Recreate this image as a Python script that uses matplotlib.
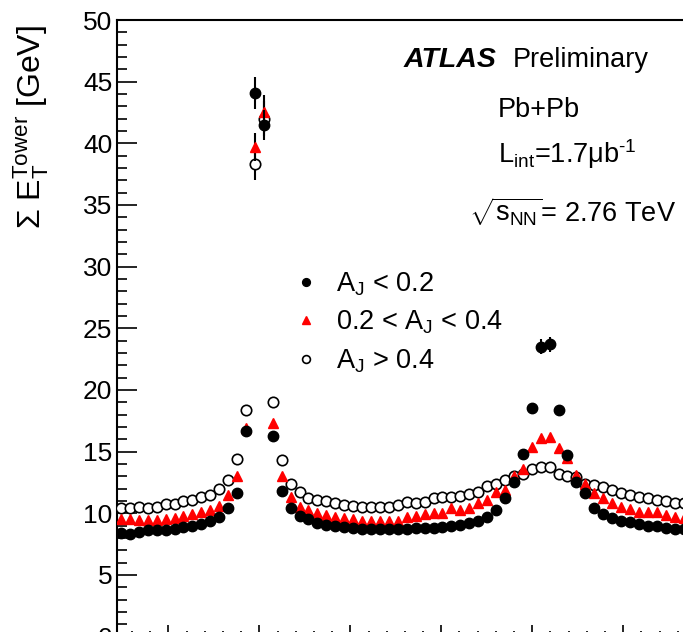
import numpy as np
import matplotlib
matplotlib.use('Agg')
import matplotlib.pyplot as plt
from matplotlib.ticker import MultipleLocator

plt.rcParams['font.family'] = 'Liberation Sans'
plt.rcParams['mathtext.fontset'] = 'custom'
plt.rcParams['mathtext.rm'] = 'Liberation Sans'
plt.rcParams['mathtext.it'] = 'Liberation Sans:italic'
plt.rcParams['mathtext.bf'] = 'Liberation Sans:bold'

# 64 delta-phi bins from -pi/2 to 3pi/2
nbins = 64
edges = np.linspace(-np.pi/2, 3*np.pi/2, nbins + 1)
dphi = 0.5*(edges[:-1] + edges[1:])

# sum E_T tower [GeV], A_J < 0.2
et_low = [8.4, 8.3, 8.5, 8.6, 8.6, 8.65, 8.75, 8.85, 9.0, 9.1,
          9.35, 9.7, 10.4, 11.6, 16.7, 44.1, 41.5, 16.3, 11.8, 10.4,
          9.8, 9.5, 9.2, 9.05, 8.95, 8.85, 8.8, 8.75, 8.75, 8.75,
          8.75, 8.75, 8.75, 8.8, 8.8, 8.8, 8.9, 9.0, 9.05, 9.2,
          9.4, 9.7, 10.26, 11.2, 12.55, 14.8, 18.5, 23.5, 23.7, 18.4,
          14.7, 12.55, 11.6, 10.4, 9.9, 9.65, 9.4, 9.25, 9.1, 8.95,
          8.95, 8.8, 8.75, 8.7]
# 0.2 < A_J < 0.4
et_mid = [9.5, 9.5, 9.45, 9.45, 9.45, 9.5, 9.6, 9.8, 9.9, 10.1,
          10.3, 10.6, 11.5, 13.0, 16.9, 39.7, 42.5, 17.3, 13.0, 11.3,
          10.5, 10.26, 10.0, 9.85, 9.7, 9.6, 9.5, 9.4, 9.4, 9.4,
          9.4, 9.4, 9.7, 9.75, 9.9, 10.0, 10.05, 10.4, 10.26, 10.4,
          10.8, 11.07, 11.75, 11.9, 13.0, 13.55, 15.35, 16.07, 16.15, 15.25,
          14.45, 13.1, 12.37, 11.6, 11.2, 10.8, 10.5, 10.34, 10.1, 10.1,
          10.1, 9.85, 9.7, 9.6]
# A_J > 0.4
et_high = [10.4, 10.4, 10.5, 10.4, 10.5, 10.75, 10.75, 11.0, 11.1, 11.3,
           11.5, 12.0, 12.7, 14.4, 18.4, 38.3, 42.0, 19.0, 14.3, 12.4,
           11.7, 11.2, 11.07, 11.0, 10.85, 10.7, 10.6, 10.5, 10.5, 10.5,
           10.5, 10.7, 10.9, 10.85, 10.9, 11.2, 11.3, 11.3, 11.4, 11.55,
           11.75, 12.2, 12.37, 12.7, 13.0, 13.2, 13.6, 13.77, 13.77, 13.2,
           13.0, 12.9, 12.37, 12.3, 12.15, 11.9, 11.65, 11.5, 11.35, 11.2,
           11.07, 11.0, 10.85, 10.8]

# statistical errors, only visible near the jet peaks
err_low = np.zeros(nbins)
err_low[[15, 16, 47, 48]] = [1.3, 1.2, 0.6, 0.6]
err_mid = np.zeros(nbins)
err_mid[[15, 16]] = [1.1, 1.4]
err_high = np.zeros(nbins)
err_high[[15, 16]] = [1.3, 1.4]

fig = plt.figure(figsize=(6.83, 6.32), dpi=100)
ax = fig.add_axes([116.5/683, -4.5/632, 571.5/683, 616.5/632])

eb_high = ax.errorbar(dphi, et_high, yerr=err_high, fmt='o', ms=7.5, mfc='white', mec='black',
                      mew=1.2, ecolor='black', elinewidth=1.5, capsize=0, zorder=3)
eb_mid = ax.errorbar(dphi, et_mid, yerr=err_mid, fmt='^', ms=7.5, color='red', mec='red',
                     ecolor='black', elinewidth=1.5, capsize=0, zorder=4)
eb_low = ax.errorbar(dphi, et_low, yerr=err_low, fmt='o', ms=7.5, color='black',
                     ecolor='black', elinewidth=1.5, capsize=0, zorder=5)

ax.set_xlim(-np.pi/2, 3*np.pi/2)
ax.set_ylim(0, 50)
ax.set_xticks(np.arange(-1, 5))
ax.xaxis.set_minor_locator(MultipleLocator(0.2))
ax.yaxis.set_major_locator(MultipleLocator(5))
ax.yaxis.set_minor_locator(MultipleLocator(1))
ax.tick_params(which='both', direction='in', top=False, right=False, width=1.2)
ax.tick_params(axis='y', which='major', length=14.5, labelsize=19, pad=3)
ax.tick_params(axis='y', which='minor', length=7.2)
ax.tick_params(axis='x', which='major', length=9, labelbottom=False)
ax.tick_params(axis='x', which='minor', length=4.5)
for s in ax.spines.values():
    s.set_linewidth(1.5)

fig.text(31/683, 1 - 127/632, r'$\Sigma$ E$_{\rm T}^{\rm Tower}$ [GeV]', rotation=90,
         ha='center', va='center', fontsize=23)

fig.text(404/683, 1 - 67/632, 'ATLAS', fontsize=20.5, fontweight='bold', style='italic')
fig.text(513/683, 1 - 67/632, 'Preliminary', fontsize=19.5)
fig.text(498/683, 1 - 117/632, 'Pb+Pb', fontsize=19.5)
fig.text(498/683, 1 - 163/632, r'L$_{\rm int}$=1.7μb$^{\text{-1}}$', fontsize=19.5)
fig.text(469/683, 1 - 222/632, r'$\sqrt{\rm s_{NN}}$= 2.76 TeV', fontsize=19.5)

ax.legend([eb_low[0], eb_mid[0], eb_high[0]],
          [r'A$_{\rm J}$ < 0.2', r'0.2 < A$_{\rm J}$ < 0.4', r'A$_{\rm J}$ > 0.4'],
          loc='upper left', bbox_to_anchor=(292/683, 1 - 270/632),
          bbox_transform=fig.transFigure, frameon=False, fontsize=19.5,
          markerscale=0.75, handlelength=1.0, handletextpad=0.62,
          labelspacing=0.42, borderpad=0, borderaxespad=0)

fig.savefig('out.png', dpi=100)
